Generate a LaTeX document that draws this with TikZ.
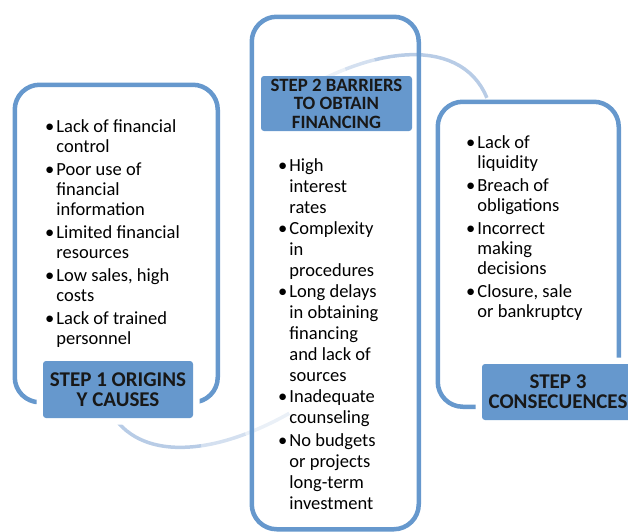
\documentclass[tikz,border=0pt]{standalone}
\usepackage{fontspec}
\setmainfont{Carlito}
\usetikzlibrary{positioning}

\definecolor{stepblue}{RGB}{102,152,205}
\definecolor{ringblue}{RGB}{184,204,230}
\definecolor{labelink}{RGB}{24,24,24}

\tikzset{
  stepframe/.style={draw=stepblue, line width=4.5pt, rounded corners=25pt, anchor=north west, inner sep=0pt},
  steplabel/.style={fill=stepblue, rounded corners=3pt, text=labelink, align=center, inner sep=0pt,
    font=\bfseries\fontsize{21}{20}\selectfont},
  cutout/.style={preaction={draw=white, line width=13pt}},
  bullets/.style={anchor=north west, inner sep=0pt, font=\fontsize{18.5}{20}\selectfont},
  ringline/.style={draw=ringblue, line width=3.5pt},
}

\begin{document}
\begin{tikzpicture}[x=1pt, y=-1pt]
\useasboundingbox (0,0) rectangle (628,531);
\clip (0,0) rectangle (628,531);

% faint ring behind the three steps
\foreach \ta/\tb/\op in {172/214/1, 214/228/.6, 228/241/.3, 58/49/.3, 49/40/.6, 40/-12/1}
  \draw[ringline, opacity=\op] plot[domain=\ta:\tb, samples=20]
    ({297+(248*cos(\x)-125*sin(\x))/1.4142}, {251-(248*cos(\x)+125*sin(\x))/1.4142});

% frames
\node[stepframe, minimum width=203pt, minimum height=317.5pt] (frame1) at (12.5,82.5) {};
\node[stepframe, minimum width=167pt, minimum height=512.5pt] (frame2) at (249.5,14.5) {};
\node[stepframe, minimum width=181pt, minimum height=305pt] (frame3) at (435.5,99.5) {};

% step labels
\node[steplabel, cutout, minimum width=150pt, minimum height=57pt] (step1) at (118,389.5)
  {STEP 1 ORIGINS\\Y CAUSES};
\node[steplabel, minimum width=151pt, minimum height=55pt, font=\bfseries\fontsize{18.8}{18.5}\selectfont]
  (step2) at (336.5,103.5) {STEP 2 BARRIERS\\TO OBTAIN\\FINANCING};
\node[steplabel, cutout, minimum width=152pt, minimum height=56pt] (step3) at (558,392)
  {STEP 3\\CONSECUENCES};

% bullet lists
\node[bullets] (causes) at (45,118) {%
  \begin{tabular}{@{}l@{\hspace{2pt}}l@{}}
  \textbullet & Lack of financial\\
              & control\\[3pt]
  \textbullet & Poor use of\\
              & financial\\
              & information\\[3pt]
  \textbullet & Limited financial\\
              & resources\\[3pt]
  \textbullet & Low sales, high\\
              & costs\\[3pt]
  \textbullet & Lack of trained\\
              & personnel
  \end{tabular}};

\node[bullets, font=\fontsize{18.5}{21}\selectfont] (barriers) at (278,157) {%
  \begin{tabular}{@{}l@{\hspace{2pt}}l@{}}
  \textbullet & High\\
              & interest\\
              & rates\\
  \textbullet & Complexity\\
              & in\\
              & procedures\\
  \textbullet & Long delays\\
              & in obtaining\\
              & financing\\
              & and lack of\\
              & sources\\
  \textbullet & Inadequate\\
              & counseling\\[2pt]
  \textbullet & No budgets\\
              & or projects\\
              & long-term\\
              & investment
  \end{tabular}};

\node[bullets] (effects) at (466,134) {%
  \begin{tabular}{@{}l@{\hspace{2pt}}l@{}}
  \textbullet & Lack of\\
              & liquidity\\[3pt]
  \textbullet & Breach of\\
              & obligations\\[3pt]
  \textbullet & Incorrect\\
              & making\\
              & decisions\\[3pt]
  \textbullet & Closure, sale\\
              & or bankruptcy
  \end{tabular}};

\end{tikzpicture}
\end{document}
